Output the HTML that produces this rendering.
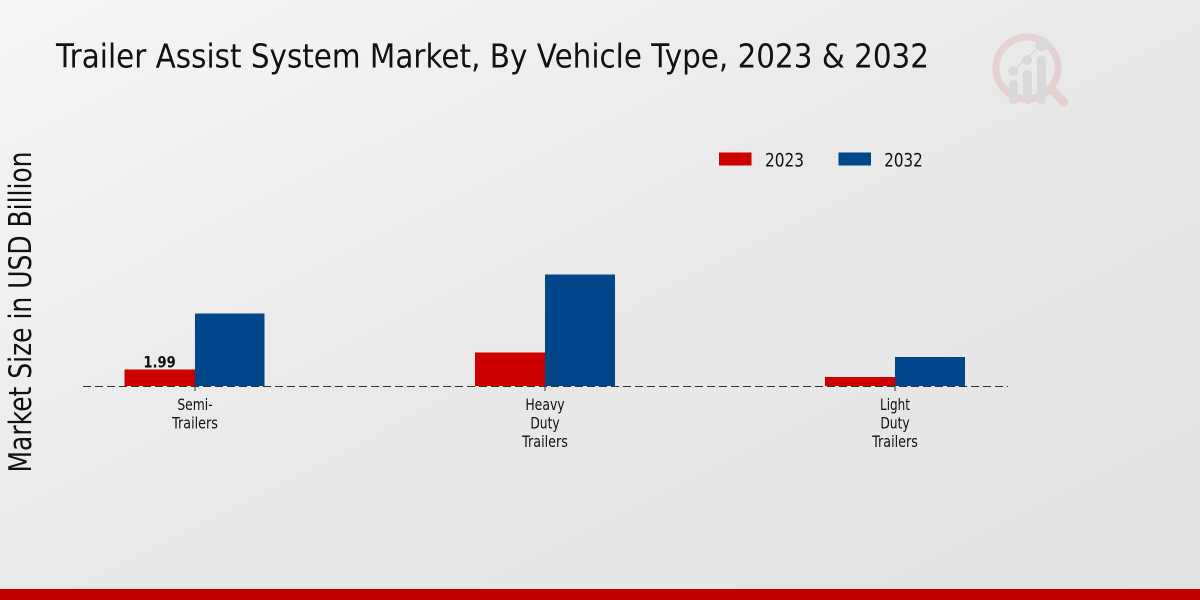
<!DOCTYPE html>
<html>
<head>
<meta charset="utf-8">
<style>
  html, body { margin: 0; padding: 0; }
  body { width: 1200px; height: 600px; overflow: hidden; }
  svg { display: block; }
  text { font-family: "DejaVu Sans", "Liberation Sans", sans-serif; fill: #111; }
</style>
</head>
<body>
<svg width="1200" height="600" viewBox="0 0 1200 600" xmlns="http://www.w3.org/2000/svg">
  <defs>
    <linearGradient id="bg" x1="0" y1="0" x2="1" y2="1">
      <stop offset="0" stop-color="#f6f6f6"/>
      <stop offset="0.5" stop-color="#e9e9e9"/>
      <stop offset="1" stop-color="#e3e3e3"/>
    </linearGradient>
  </defs>
  <rect x="0" y="0" width="1200" height="600" fill="url(#bg)"/>

  <!-- Title -->
  <text x="56" y="67.5" font-size="33" textLength="873" lengthAdjust="spacingAndGlyphs">Trailer Assist System Market, By Vehicle Type, 2023 &amp; 2032</text>

  <!-- Logo watermark -->
  <g opacity="0.75">
    <circle cx="1027" cy="68" r="31" fill="none" stroke="#e6c9cb" stroke-width="7"/>
    <line x1="1052" y1="90" x2="1064" y2="102" stroke="#e6c9cb" stroke-width="9" stroke-linecap="round"/>
    <rect x="1009" y="80" width="9" height="24" rx="4" fill="#d4d4d6"/>
    <rect x="1023" y="70" width="9" height="34" rx="4" fill="#d4d4d6"/>
    <rect x="1037" y="56" width="9" height="48" rx="4" fill="#d4d4d6"/>
    <circle cx="1013" cy="71" r="5" fill="#d4d4d6"/>
    <circle cx="1027" cy="60" r="5" fill="#d4d4d6"/>
    <circle cx="1042" cy="44" r="7" fill="#d4d4d6"/>
    <line x1="1013" y1="71" x2="1042" y2="44" stroke="#d4d4d6" stroke-width="1.5"/>
  </g>

  <!-- Legend -->
  <rect x="719" y="152.5" width="32.5" height="13" fill="#cc0000"/>
  <text x="765" y="166.7" font-size="19" textLength="39" lengthAdjust="spacingAndGlyphs">2023</text>
  <rect x="838.5" y="152.5" width="32.5" height="13" fill="#00468b"/>
  <text x="884.3" y="166.7" font-size="19" textLength="38.5" lengthAdjust="spacingAndGlyphs">2032</text>

  <!-- Y axis label -->
  <text transform="translate(31,312) rotate(-90)" x="0" y="0" font-size="31" text-anchor="middle" textLength="321" lengthAdjust="spacingAndGlyphs">Market Size in USD Billion</text>

  <!-- Bars -->
  <rect x="124.5" y="369.5" width="70.5" height="16.5" fill="#cc0000"/>
  <rect x="195" y="313.5" width="69.5" height="72.5" fill="#00468b"/>

  <rect x="475" y="352.5" width="70" height="33.5" fill="#cc0000"/>
  <rect x="545" y="274.5" width="70" height="111.5" fill="#00468b"/>

  <rect x="825" y="377" width="70" height="9" fill="#cc0000"/>
  <rect x="895" y="357" width="70" height="29" fill="#00468b"/>

  <!-- Baseline dashed -->
  <line x1="83" y1="386.5" x2="1008" y2="386.5" stroke="#333" stroke-width="1.1" stroke-dasharray="8,4"/>

  <!-- Ticks -->
  <line x1="195" y1="386" x2="195" y2="391" stroke="#333" stroke-width="1"/>
  <line x1="545" y1="386" x2="545" y2="391" stroke="#333" stroke-width="1"/>
  <line x1="895" y1="386" x2="895" y2="391" stroke="#333" stroke-width="1"/>

  <!-- Data label -->
  <text x="159.6" y="367.3" font-size="16" font-weight="bold" text-anchor="middle" textLength="32.4" lengthAdjust="spacingAndGlyphs">1.99</text>

  <!-- X tick labels -->
  <g font-size="16" text-anchor="middle">
    <text x="195" y="410" textLength="35.3" lengthAdjust="spacingAndGlyphs">Semi-</text>
    <text x="195" y="428.5" textLength="45.7" lengthAdjust="spacingAndGlyphs">Trailers</text>

    <text x="545" y="410" textLength="39.3" lengthAdjust="spacingAndGlyphs">Heavy</text>
    <text x="545" y="428.5" textLength="29.3" lengthAdjust="spacingAndGlyphs">Duty</text>
    <text x="545" y="447" textLength="45.7" lengthAdjust="spacingAndGlyphs">Trailers</text>

    <text x="895" y="410" textLength="30" lengthAdjust="spacingAndGlyphs">Light</text>
    <text x="895" y="428.5" textLength="29.3" lengthAdjust="spacingAndGlyphs">Duty</text>
    <text x="895" y="447" textLength="45.7" lengthAdjust="spacingAndGlyphs">Trailers</text>
  </g>

  <!-- Bottom red bar -->
  <rect x="0" y="589" width="1200" height="11" fill="#c00000"/>
</svg>
</body>
</html>
